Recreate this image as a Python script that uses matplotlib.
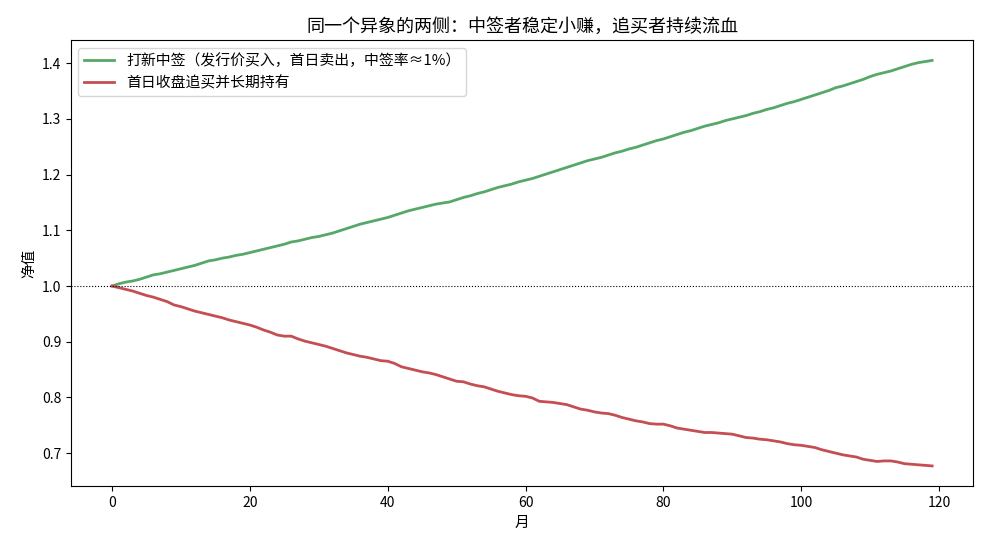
import matplotlib
matplotlib.use("Agg")
import matplotlib.pyplot as plt
import numpy as np

plt.rcParams['font.family'] = ['Noto Sans CJK SC', 'DejaVu Sans']
plt.rcParams['axes.unicode_minus'] = False

months = list(range(120))

ipo_subscribe = [
    1.000, 1.004, 1.007, 1.009, 1.012, 1.016, 1.020, 1.022, 1.025, 1.028,
    1.031, 1.034, 1.037, 1.041, 1.045, 1.047, 1.050, 1.052, 1.055, 1.057,
    1.060, 1.063, 1.066, 1.069, 1.072, 1.075, 1.079, 1.081, 1.084, 1.087,
    1.089, 1.092, 1.095, 1.099, 1.103, 1.107, 1.111, 1.114, 1.117, 1.120,
    1.123, 1.127, 1.131, 1.135, 1.138, 1.141, 1.144, 1.147, 1.149, 1.151,
    1.155, 1.159, 1.162, 1.166, 1.169, 1.173, 1.177, 1.180, 1.183, 1.187,
    1.190, 1.193, 1.197, 1.201, 1.205, 1.209, 1.213, 1.217, 1.221, 1.225,
    1.228, 1.231, 1.235, 1.239, 1.242, 1.246, 1.249, 1.253, 1.257, 1.261,
    1.264, 1.268, 1.272, 1.276, 1.279, 1.283, 1.287, 1.290, 1.293, 1.297,
    1.300, 1.303, 1.306, 1.310, 1.313, 1.317, 1.320, 1.324, 1.328, 1.331,
    1.335, 1.339, 1.343, 1.347, 1.351, 1.356, 1.359, 1.363, 1.367, 1.371,
    1.376, 1.380, 1.383, 1.386, 1.390, 1.394, 1.398, 1.401, 1.403, 1.405,
]

chase_hold = [
    1.000, 0.997, 0.994, 0.991, 0.987, 0.983, 0.980, 0.976, 0.972, 0.966,
    0.963, 0.959, 0.955, 0.952, 0.949, 0.946, 0.943, 0.939, 0.936, 0.933,
    0.930, 0.926, 0.921, 0.917, 0.912, 0.910, 0.910, 0.905, 0.901, 0.898,
    0.895, 0.892, 0.888, 0.884, 0.880, 0.877, 0.874, 0.872, 0.869, 0.866,
    0.865, 0.861, 0.855, 0.852, 0.849, 0.846, 0.844, 0.841, 0.837, 0.833,
    0.829, 0.828, 0.824, 0.821, 0.819, 0.815, 0.811, 0.808, 0.805, 0.803,
    0.802, 0.799, 0.793, 0.792, 0.791, 0.789, 0.787, 0.783, 0.779, 0.777,
    0.774, 0.772, 0.771, 0.768, 0.764, 0.761, 0.758, 0.756, 0.753, 0.752,
    0.752, 0.749, 0.745, 0.743, 0.741, 0.739, 0.737, 0.737, 0.736, 0.735,
    0.734, 0.731, 0.728, 0.727, 0.725, 0.724, 0.722, 0.720, 0.717, 0.715,
    0.714, 0.712, 0.710, 0.706, 0.703, 0.700, 0.697, 0.695, 0.693, 0.689,
    0.687, 0.685, 0.686, 0.686, 0.684, 0.681, 0.680, 0.679, 0.678, 0.677,
]

label_green = "打新中签（发行价买入，首日卖出，中签率≈1%）"
label_red = "首日收盘追买并长期持有"
title = "同一个异象的两侧：中签者稳定小赚，追买者持续流血"

fig = plt.figure(figsize=(9.9, 5.5), dpi=100)
ax = fig.add_axes([0.0717, 0.116, 0.9113, 0.811])

ax.plot(months, ipo_subscribe, color="#55A868", lw=2, label=label_green)
ax.plot(months, chase_hold, color="#C44E52", lw=2, label=label_red)
ax.axhline(1.0, color="black", lw=0.8, ls=":")

ax.set_title(title, fontsize=13)
ax.set_xlabel("月", fontsize=10.5)
ax.set_ylabel("净值", fontsize=10.5)
ax.legend(loc="upper left", fontsize=10.7)
ax.tick_params(labelsize=10)

fig.savefig("out.png", dpi=100)
